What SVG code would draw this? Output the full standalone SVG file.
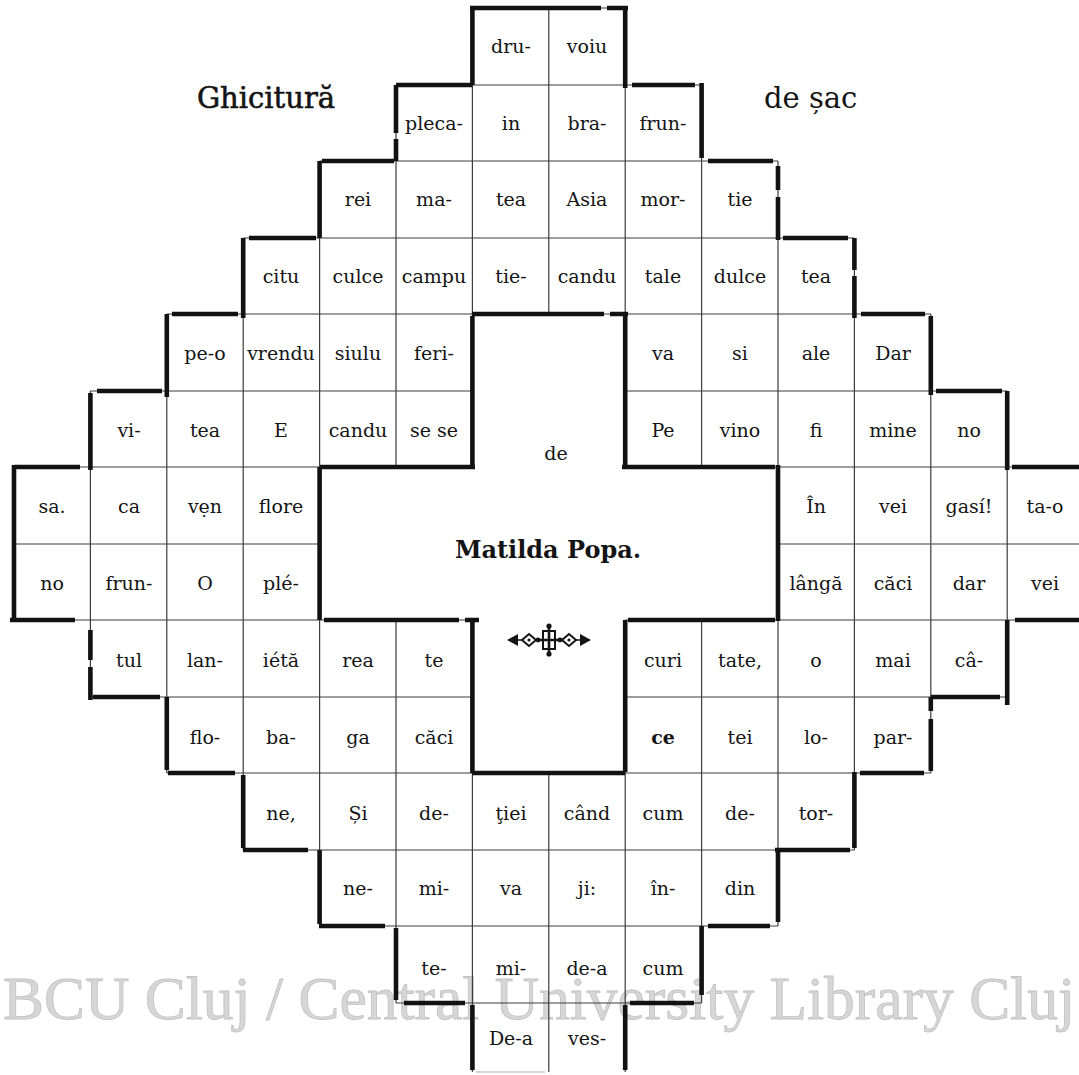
<svg xmlns="http://www.w3.org/2000/svg" width="1079" height="1075" viewBox="0 0 1079 1075">
<style>
.t{font-family:"DejaVu Serif","Liberation Serif",serif;font-size:19px;text-anchor:middle;fill:#141414}
.b{font-weight:bold}
.thin{stroke:#3c3c3c;stroke-width:1.2;fill:none}
.thick{stroke:#121212;stroke-width:4.6;fill:none;stroke-linecap:butt}
.title{font-family:"DejaVu Serif","Liberation Serif",serif;font-size:29px;fill:#141414}
.wm{font-family:"Liberation Serif","Times New Roman",serif;font-size:61px;fill:#d6d6d6;stroke:#c2c2c2;stroke-width:0.8}
</style>
<rect width="1079" height="1075" fill="#ffffff"/>
<text class="wm" x="3" y="1019" textLength="1072" lengthAdjust="spacingAndGlyphs">BCU Cluj / Central University Library Cluj</text>
<g id="titles">
<text id="title-left" class="title" x="266" y="108" text-anchor="middle" stroke="#141414" stroke-width="0.6">Ghicitură</text>
<text id="title-right" class="title" x="764" y="108">de șac</text>
</g>
<g id="connectors">
<path class="thin" d="M14 467V620M90.4 391V697M166.8 314V773M243.2 238V850M319.6 161V926M396 85V467M396 620V1003M472.4 8V467M472.4 620V1072M548.8 8V314M548.8 773V1072M625.2 8V467M625.2 620V1072M701.6 85V467M701.6 620V1003M778 161V926M854.4 238V850M930.8 314V773M1007.2 391V697"/>
<path class="thin" d="M472.4 8H625.2M396 85H701.6M319.6 161H778M243.2 238H854.4M166.8 314H930.8M90.4 391H472.4M625.2 391H1007.2M14 467H472.4M625.2 467H1079M14 544H319.6M778 544H1079M14 620H472.4M625.2 620H1079M90.4 697H472.4M625.2 697H1007.2M166.8 773H930.8M243.2 850H854.4M319.6 926H778M396 1003H701.6"/>
<path d="M476 1072H545" stroke="#c8c8c8" stroke-width="1.5" fill="none"/>
<path class="thick" d="M470 8H601M607 8H628M472.4 10V85M625.2 6V88M396 85H472.4M632 85H695M396 85V133M396 139V161M701.6 83V158M322 161H394M708 161H773M319.6 161V238M778 166V190M778 197V240M249 238H316M783 238H848M243.2 238V318M854.4 238V270M854.4 276V318M172 314H238M861 314H925M166.8 314V397M930.8 316V395M97 391H162M936 391H1002M90.4 393V470M1007.2 391V470M14 467H80M1012 467H1079M14 465V622M10 620H75M1015 620H1079M90.4 630V660M90.4 667V700M1007.2 620V705M93 697H160M931 697H1000M166.8 697V770M930.8 697V711M930.8 719V771M168 773H235M860 773H924M243.2 775V848M854.4 772V848M243 850H308M775 850H850M319.6 850V924M778 848V922M319 926H385M708 926H770M396 928V1000M701.6 926V995M404 1003H465M630 1003H694M472.4 1005V1070M625.2 1005V1070"/>
<path class="thick" d="M472 314H604M610 314H628M472.4 316V467M625.2 316V467M320 467H475M622 467H775M319.6 467V620M778 465V621M324 620H459M465 620H479M628 620H775M472.4 620V773M625.2 620V772M472 773H625"/>
</g>
<g id="center">
<text id="center-de" class="t" x="556" y="460">de</text>
<text id="center-author" class="t b" x="548" y="558" style="font-size:24px">Matilda Popa.</text>
<g id="ornament" fill="#141414" stroke="#141414">
<path d="M507 640L518 634L518 646Z" stroke="none"/>
<path d="M591 640L580 634L580 646Z" stroke="none"/>
<path d="M518 640H580" stroke-width="1.5"/>
<path d="M522 640L529 634L536 640L529 646Z" fill="#fff" stroke-width="2"/>
<path d="M576 640L569 634L562 640L569 646Z" fill="#fff" stroke-width="2"/>
<circle cx="529" cy="640" r="1.6" stroke="none"/>
<circle cx="569" cy="640" r="1.6" stroke="none"/>
<rect x="543" y="631" width="12" height="18" fill="#fff" stroke-width="2"/>
<path d="M549 626V654M539 640H559" stroke-width="2.6"/>
<circle cx="549" cy="626" r="2.6" stroke="none"/>
<circle cx="549" cy="654" r="2.6" stroke="none"/>
<circle cx="538" cy="640" r="2.4" stroke="none"/>
<circle cx="560" cy="640" r="2.4" stroke="none"/>
</g>
</g>
<g id="row1"><g id="n-dru"><text class="t" x="511" y="53">dru-</text></g><g id="n-voiu"><text class="t" x="587" y="53">voiu</text></g></g>
<g id="row2"><g id="n-pleca"><text class="t" x="434" y="130">pleca-</text></g><g id="n-in"><text class="t" x="511" y="130">in</text></g><g id="n-bra"><text class="t" x="587" y="130">bra-</text></g><g id="n-frun1"><text class="t" x="663" y="130">frun-</text></g></g>
<g id="row3"><g id="n-rei"><text class="t" x="358" y="206">rei</text></g><g id="n-ma"><text class="t" x="434" y="206">ma-</text></g><g id="n-tea1"><text class="t" x="511" y="206">tea</text></g><g id="n-asia"><text class="t" x="587" y="206">Asia</text></g><g id="n-mor"><text class="t" x="663" y="206">mor-</text></g><g id="n-tie"><text class="t" x="740" y="206">tie</text></g></g>
<g id="row4"><g id="n-citu"><text class="t" x="281" y="283">citu</text></g><g id="n-culce"><text class="t" x="358" y="283">culce</text></g><g id="n-campu"><text class="t" x="434" y="283">campu</text></g><g id="n-tie2"><text class="t" x="511" y="283">tie-</text></g><g id="n-candu1"><text class="t" x="587" y="283">candu</text></g><g id="n-tale"><text class="t" x="663" y="283">tale</text></g><g id="n-dulce"><text class="t" x="740" y="283">dulce</text></g><g id="n-tea2"><text class="t" x="816" y="283">tea</text></g></g>
<g id="row5"><g id="n-peo"><text class="t" x="205" y="360">pe-o</text></g><g id="n-vrendu"><text class="t" x="281" y="360">vrendu</text></g><g id="n-siulu"><text class="t" x="358" y="360">siulu</text></g><g id="n-feri"><text class="t" x="434" y="360">feri-</text></g><g id="n-va1"><text class="t" x="663" y="360">va</text></g><g id="n-si"><text class="t" x="740" y="360">si</text></g><g id="n-ale"><text class="t" x="816" y="360">ale</text></g><g id="n-dar1"><text class="t" x="893" y="360">Dar</text></g></g>
<g id="row6"><g id="n-vi"><text class="t" x="129" y="437">vi-</text></g><g id="n-tea3"><text class="t" x="205" y="437">tea</text></g><g id="n-e"><text class="t" x="281" y="437">E</text></g><g id="n-candu2"><text class="t" x="358" y="437">candu</text></g><g id="n-sese"><text class="t" x="434" y="437">se se</text></g><g id="n-pe"><text class="t" x="663" y="437">Pe</text></g><g id="n-vino"><text class="t" x="740" y="437">vino</text></g><g id="n-fi"><text class="t" x="816" y="437">fi</text></g><g id="n-mine"><text class="t" x="893" y="437">mine</text></g><g id="n-no1"><text class="t" x="969" y="437">no</text></g></g>
<g id="row7"><g id="n-sa"><text class="t" x="52" y="513">sa.</text></g><g id="n-ca"><text class="t" x="129" y="513">ca</text></g><g id="n-ven"><text class="t" x="205" y="513">vẹn</text></g><g id="n-flore"><text class="t" x="281" y="513">flore</text></g><g id="n-in2"><text class="t" x="816" y="513">În</text></g><g id="n-vei1"><text class="t" x="893" y="513">vei</text></g><g id="n-gasi"><text class="t" x="969" y="513">gasí!</text></g><g id="n-tao"><text class="t" x="1045" y="513">ta-o</text></g></g>
<g id="row8"><g id="n-no2"><text class="t" x="52" y="590">no</text></g><g id="n-frun2"><text class="t" x="129" y="590">frun-</text></g><g id="n-o1"><text class="t" x="205" y="590">O</text></g><g id="n-ple"><text class="t" x="281" y="590">plé-</text></g><g id="n-langa"><text class="t" x="816" y="590">lângă</text></g><g id="n-caci1"><text class="t" x="893" y="590">căci</text></g><g id="n-dar2"><text class="t" x="969" y="590">dar</text></g><g id="n-vei2"><text class="t" x="1045" y="590">vei</text></g></g>
<g id="row9"><g id="n-tul"><text class="t" x="129" y="667">tul</text></g><g id="n-lan"><text class="t" x="205" y="667">lan-</text></g><g id="n-ieta"><text class="t" x="281" y="667">iétă</text></g><g id="n-rea"><text class="t" x="358" y="667">rea</text></g><g id="n-te1"><text class="t" x="434" y="667">te</text></g><g id="n-curi"><text class="t" x="663" y="667">curi</text></g><g id="n-tate"><text class="t" x="740" y="667">tate,</text></g><g id="n-o2"><text class="t" x="816" y="667">o</text></g><g id="n-mai"><text class="t" x="893" y="667">mai</text></g><g id="n-ca2"><text class="t" x="969" y="667">câ-</text></g></g>
<g id="row10"><g id="n-flo"><text class="t" x="205" y="744">flo-</text></g><g id="n-ba"><text class="t" x="281" y="744">ba-</text></g><g id="n-ga"><text class="t" x="358" y="744">ga</text></g><g id="n-caci2"><text class="t" x="434" y="744">căci</text></g><g id="n-ce"><text class="t b" x="663" y="744">ce</text></g><g id="n-tei"><text class="t" x="740" y="744">tei</text></g><g id="n-lo"><text class="t" x="816" y="744">lo-</text></g><g id="n-par"><text class="t" x="893" y="744">par-</text></g></g>
<g id="row11"><g id="n-ne1"><text class="t" x="281" y="820">ne,</text></g><g id="n-si2"><text class="t" x="358" y="820">Și</text></g><g id="n-de1"><text class="t" x="434" y="820">de-</text></g><g id="n-tiei"><text class="t" x="511" y="820">ţiei</text></g><g id="n-cand"><text class="t" x="587" y="820">când</text></g><g id="n-cum1"><text class="t" x="663" y="820">cum</text></g><g id="n-de2"><text class="t" x="740" y="820">de-</text></g><g id="n-tor"><text class="t" x="816" y="820">tor-</text></g></g>
<g id="row12"><g id="n-ne2"><text class="t" x="358" y="895">ne-</text></g><g id="n-mi1"><text class="t" x="434" y="895">mi-</text></g><g id="n-va2"><text class="t" x="511" y="895">va</text></g><g id="n-ji"><text class="t" x="587" y="895">ji:</text></g><g id="n-in3"><text class="t" x="663" y="895">în-</text></g><g id="n-din"><text class="t" x="740" y="895">din</text></g></g>
<g id="row13"><g id="n-te2"><text class="t" x="434" y="975">te-</text></g><g id="n-mi2"><text class="t" x="511" y="975">mi-</text></g><g id="n-dea1"><text class="t" x="587" y="975">de-a</text></g><g id="n-cum2"><text class="t" x="663" y="975">cum</text></g></g>
<g id="row14"><g id="n-dea2"><text class="t" x="511" y="1045">De-a</text></g><g id="n-ves"><text class="t" x="587" y="1045">ves-</text></g></g>
</svg>
